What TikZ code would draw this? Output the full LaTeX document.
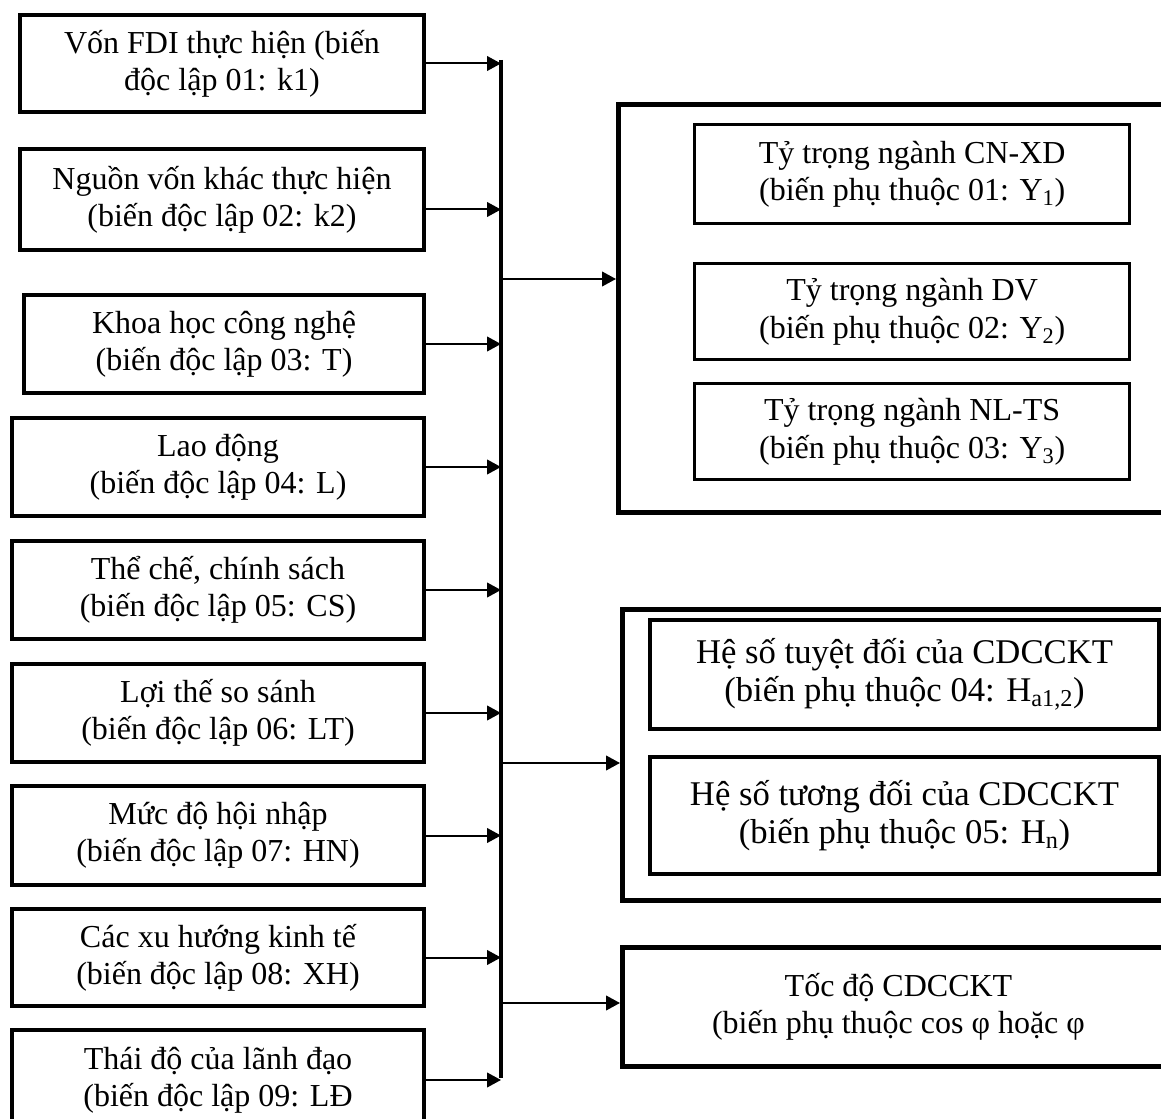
\documentclass[tikz,border=0pt]{standalone}
\usepackage{fontspec}
\setmainfont{Liberation Serif}
\usetikzlibrary{arrows.meta}
\tikzset{
  sz/.style 2 args={minimum width=#1*0.75pt, minimum height=#2*0.75pt},
  varbox/.style={draw, line width=3pt, align=center, inner sep=0pt, anchor=north west,
    font=\fontsize{24pt}{28pt}\selectfont},
  depbox/.style={varbox, line width=2.5pt},
  coefbox/.style={varbox, line width=3pt, font=\fontsize{26pt}{28.5pt}\selectfont},
  grpbox/.style={draw, line width=3.75pt, anchor=north west, inner sep=0pt},
  link/.style={line width=1.5pt, -{Triangle[length=10.5pt,width=11pt]}},
}
\begin{document}
\begin{tikzpicture}[x=0.75pt, y=-0.75pt]
  \useasboundingbox (0,0) rectangle (1161,1119);
  \node[varbox, sz={404}{97}] (k1) at (18,13) {Vốn FDI thực hiện (biến\\độc lập 01: k1)};
  \node[varbox, sz={404}{101}] (k2) at (18,147) {Nguồn vốn khác thực hiện\\(biến độc lập 02: k2)};
  \node[varbox, sz={400}{98}] (tech) at (22,293) {Khoa học công nghệ\\(biến độc lập 03: T)};
  \node[varbox, sz={412}{98}] (lab) at (10,416) {Lao động\\(biến độc lập 04: L)};
  \node[varbox, sz={412}{98}] (pol) at (10,539) {Thể chế, chính sách\\(biến độc lập 05: CS)};
  \node[varbox, sz={412}{98}] (adv) at (10,662) {Lợi thế so sánh\\(biến độc lập 06: LT)};
  \node[varbox, sz={412}{99}] (integ) at (10,784) {Mức độ hội nhập\\(biến độc lập 07: HN)};
  \node[varbox, sz={412}{97}] (trend) at (10,907) {Các xu hướng kinh tế\\(biến độc lập 08: XH)};
  \node[varbox, sz={412}{100}] (lead) at (10,1028) {Thái độ của lãnh đạo\\(biến độc lập 09: LĐ};

  \coordinate (bustop) at (501,60);
  \coordinate (busbot) at (501,1078);
  \draw[line width=3.4pt] (bustop) -- (busbot);

  \draw[link] (k1.east) -- (k1.east -| bustop);
  \draw[link] ([yshift=-7.5pt]k2.east) -- ([yshift=-7.5pt]k2.east -| bustop);
  \foreach \v in {tech,lab,pol,adv,integ,trend,lead}
    \draw[link] (\v.east) -- (\v.east -| bustop);

  \node[grpbox, sz={560}{408}] (grpA) at (616,102) {};
  \node[depbox, sz={435}{99}] (y1) at (693,123) {Tỷ trọng ngành CN-XD\\(biến phụ thuộc 01: Y\textsubscript{1})};
  \node[depbox, sz={435}{96}] (y2) at (693,262) {Tỷ trọng ngành DV\\(biến phụ thuộc 02: Y\textsubscript{2})};
  \node[depbox, sz={435}{96}] (y3) at (693,382) {Tỷ trọng ngành NL-TS\\(biến phụ thuộc 03: Y\textsubscript{3})};

  \node[grpbox, sz={560}{291}] (grpB) at (620,607) {};
  \node[coefbox, sz={509}{109}] (h1) at (648,618) {Hệ số tuyệt đối của CDCCKT\\(biến phụ thuộc 04: H\textsubscript{a1,2})};
  \node[coefbox, sz={509}{117}] (h2) at (648,755) {Hệ số tương đối của CDCCKT\\(biến phụ thuộc 05: H\textsubscript{n})};

  \node[varbox, line width=3.75pt, sz={552}{119}] (speed) at (620,945) {Tốc độ CDCCKT\\(biến phụ thuộc cos φ hoặc φ};

  \coordinate (jA) at (501,279);
  \coordinate (jB) at (501,763);
  \coordinate (jC) at (501,1003);
  \draw[link] (jA) -- (jA -| grpA.west);
  \draw[link] (jB) -- (jB -| grpB.west);
  \draw[link] (jC) -- (jC -| speed.west);
\end{tikzpicture}
\end{document}
